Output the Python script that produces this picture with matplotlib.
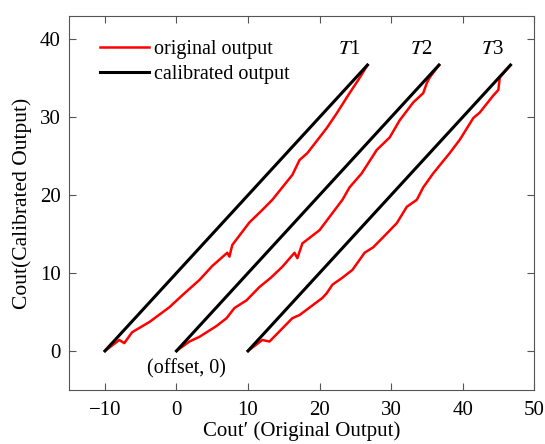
import matplotlib
matplotlib.use("Agg")
import matplotlib.pyplot as plt

plt.rcParams['font.family'] = ['Liberation Serif', 'DejaVu Serif']
plt.rcParams['mathtext.fontset'] = 'stix'

# offsets and end points of the calibrated (straight) lines
offsets = [-10, 0, 10]
end_y = 36.7
labels = ["$T$1", "$T$2", "$T$3"]

# original output curves (x, y)
t1_x = [-10.0, -8.0, -7.3, -6.2, -3.8, -1.0, 1.0, 3.2, 5.0, 7.1, 7.4, 7.8, 10.2, 12.0, 13.4,
        14.8, 16.2, 17.2, 18.3, 21.0, 22.4, 24.2, 25.5, 26.7]
t1_y = [0.0, 1.4, 1.0, 2.4, 3.7, 5.6, 7.3, 9.1, 10.9, 12.6, 12.1, 13.6, 16.5, 18.1, 19.4,
        21.0, 22.6, 24.5, 25.4, 28.6, 30.5, 33.1, 34.9, 36.7]

t2_x = [0.0, 1.8, 3.2, 5.6, 7.0, 8.1, 9.8, 11.6, 13.2, 14.8, 16.5, 16.9, 17.6, 20.0, 23.2,
        24.2, 25.9, 28.0, 29.8, 31.2, 33.1, 34.5, 35.0, 35.4, 36.7]
t2_y = [0.0, 1.2, 1.8, 3.2, 4.2, 5.5, 6.5, 8.2, 9.4, 10.8, 12.6, 11.9, 13.8, 15.5, 19.4,
        21.0, 22.8, 25.8, 27.4, 29.6, 31.9, 33.1, 34.4, 35.1, 36.7]

t3_x = [10.0, 12.0, 13.0, 16.2, 17.2, 20.4, 21.0, 21.8, 23.2, 24.6, 26.3, 27.5, 28.9, 30.8,
        32.2, 33.6, 34.5, 35.9, 38.2, 39.6, 41.5, 42.4, 44.3, 45.0, 45.2, 46.7]
t3_y = [0.0, 1.4, 1.2, 4.2, 4.6, 6.8, 7.4, 8.5, 9.4, 10.4, 12.6, 13.3, 14.6, 16.4,
        18.5, 19.4, 21.0, 22.8, 25.4, 27.1, 29.9, 30.6, 32.8, 33.5, 35.1, 36.7]

curves = [(t1_x, t1_y), (t2_x, t2_y), (t3_x, t3_y)]

fig = plt.figure(figsize=(5.45, 4.44), dpi=100)
ax = fig.add_axes([0.127, 0.122, 0.853, 0.842])

for i, (cx, cy) in enumerate(curves):
    ax.plot(cx, cy, color='red', lw=1.8, label='original output' if i == 0 else None, zorder=2)
for i, off in enumerate(offsets):
    ax.plot([off, off + end_y], [0, end_y], color='black', lw=2.2,
            label='calibrated output' if i == 0 else None, zorder=3)
    ax.text(off + end_y - 2.5, 37.5, labels[i], fontsize=15, ha='center', va='bottom')

ax.text(1.4, -2.3, "(offset, 0)", fontsize=14.5, ha='center', va='center')

ax.set_xlim(-15, 50)
ax.set_ylim(-5, 43)
ax.set_xticks([-10, 0, 10, 20, 30, 40, 50])
ax.set_yticks([0, 10, 20, 30, 40])
ax.set_xticklabels(["\u221210", "0", "10", "20", "30", "40", "50"])
ax.tick_params(direction='in', top=True, right=True, labelsize=15, length=5, color='#555555')
ax.tick_params(axis='x', pad=8)
ax.tick_params(axis='y', pad=6)
for s in ax.spines.values():
    s.set_color('#555555')

ax.set_xlabel("Cout\u2032 (Original Output)", fontsize=15, labelpad=1)
ax.set_ylabel("Cout(Calibrated Output)", fontsize=15.5, labelpad=6)

ax.legend(loc='upper left', bbox_to_anchor=(0.028, 0.985), frameon=False, fontsize=14.5,
          handlelength=2.4, handletextpad=0.25, labelspacing=0.3)

fig.savefig("out.png", dpi=100)
